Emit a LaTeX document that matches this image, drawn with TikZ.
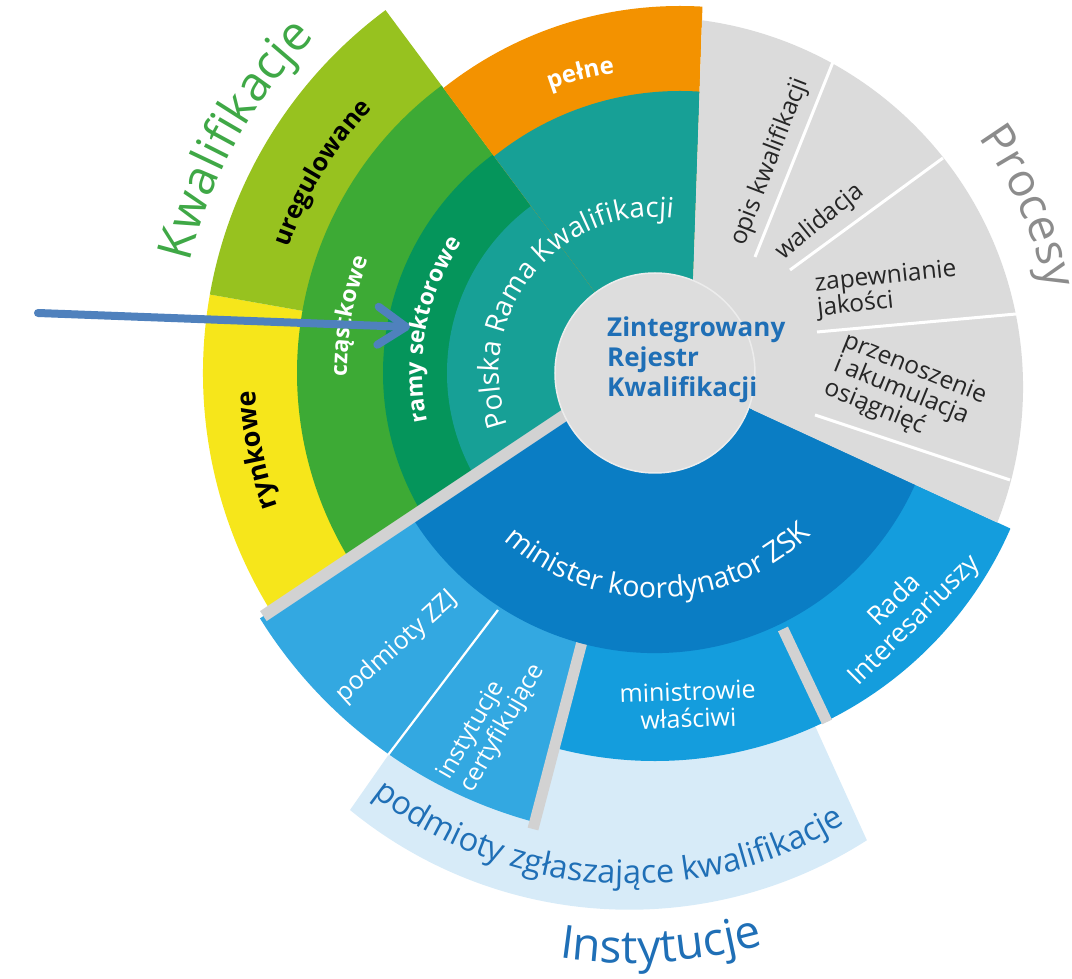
\documentclass[tikz,border=0pt]{standalone}
\usepackage{fontspec}
\setmainfont{Open Sans}
\setsansfont{Open Sans}
\usetikzlibrary{decorations.text,arrows.meta}
\definecolor{cteal}{HTML}{17A096}
\definecolor{cdkgreen}{HTML}{05955B}
\definecolor{cmidgreen}{HTML}{3DAA35}
\definecolor{cltgreen}{HTML}{97C21F}
\definecolor{cyellow}{HTML}{F6E61B}
\definecolor{corange}{HTML}{F39200}
\definecolor{cgray}{HTML}{DBDBDB}
\definecolor{cdisk}{HTML}{DDDDDD}
\definecolor{cdivider}{HTML}{D2D2D2}
\definecolor{cdkblue}{HTML}{0A7DC4}
\definecolor{cblueA}{HTML}{33A8E1}
\definecolor{cblueB}{HTML}{149DDD}
\definecolor{cband}{HTML}{D7EBF8}
\definecolor{ctextblue}{HTML}{1F6FB6}
\definecolor{ckwgreen}{HTML}{3FA846}
\definecolor{cprocgray}{HTML}{8C8C8C}
\definecolor{carrow}{HTML}{4F81BD}
\newcommand\piewedge[4]{\fill[#1] (0pt,0pt) -- (#2:#4pt) arc[start angle=#2,end angle=#3,radius=#4pt] -- cycle;}
\begin{document}
\begin{tikzpicture}[
  wlabel/.style={text=white, font=\fontsize{25}{27}\selectfont, inner sep=0pt, align=center},
  blabel/.style={text=black!85, font=\fontsize{24.5}{25}\selectfont, inner sep=0pt, align=left},
  divider/.style={draw=cdivider, line width=11pt},
  procline/.style={draw=white, line width=3pt},
  curvetext/.style={decorate, decoration={text along path, text align=center, text={#1}}}
]
\useasboundingbox (-655pt,-606pt) rectangle (417pt,373pt);

% light band of Instytucje
\fill[cband] (0pt,0pt) -- (-305pt,-437pt) arc[start angle=230.7,end angle=302.6,radius=441pt] -- cycle;

% Instytucje
\begin{scope}
\clip (-900pt,-582.7pt) -- (-9.1pt,12.4pt) -- (900pt,-406.4pt) -- (900pt,-900pt) -- (-900pt,-900pt) -- cycle;
\piewedge{cblueA}{195}{255}{465}
\piewedge{cblueB}{255}{350}{388}
\draw[white, line width=2.2pt] (-157pt,-237pt) -- (-267pt,-382pt);
\draw[divider] (-72pt,-265pt) -- (-122pt,-456pt);
\draw[divider] (128pt,-256pt) -- (172pt,-349pt);
\fill[cdkblue] (0pt,5pt) -- (-275.3pt,-68.8pt) arc[start angle=195,end angle=350,radius=285pt] -- cycle;
\end{scope}

% Kwalifikacje
\begin{scope}
\clip (-900pt,-582.7pt) -- (36.4pt,42.8pt) -- (62.3pt,800pt) -- (-900pt,800pt) -- cycle;
\piewedge{cyellow}{170}{235}{452}
\piewedge{cltgreen}{126.6}{170}{452}
\piewedge{cmidgreen}{126.6}{235}{358}
\piewedge{cdkgreen}{126.6}{235}{272}
\piewedge{cteal}{126.6}{235}{208}
\begin{scope}
\clip (0pt,0pt) -- (126.6:900pt) -- (90:900pt) -- (40:900pt) -- cycle;
\fill[corange] (25pt,-15pt) circle[radius=382pt];
\fill[cteal] (25pt,-15pt) circle[radius=297pt];
\end{scope}
\end{scope}

% divider Kwalifikacje / Instytucje
\draw[divider, line width=12pt] (-90pt,-42pt) -- (-391.6pt,-243.1pt);

% Procesy
\fill[cgray] (37pt,60pt) -- (47pt,352.7pt) arc[start angle=82.4,end angle=-21.5,radius=370pt] -- (98pt,-37pt) -- (60pt,-10pt) -- cycle;
\draw[procline] (100pt,116pt) -- (178pt,311pt);
\draw[procline] (135pt,103pt) -- (288pt,215pt);
\draw[procline] (162pt,41pt) -- (361pt,59pt);
\draw[procline] (160pt,-42pt) -- (355pt,-107pt);

% central disk
\node[circle, fill=cdisk, draw=white!45!cdisk, line width=1.5pt, minimum size=200pt, inner sep=0pt] (zrk) at (0pt,0pt) {};
\node[font=\bfseries\fontsize{26}{30}\selectfont, text=ctextblue, align=left, anchor=north west, inner sep=0pt] (zrktext) at (-48pt,56pt) {Zintegrowany\\Rejestr\\Kwalifikacji};

% Kwalifikacje texts
\path[curvetext={|\fontsize{48}{48}\selectfont\color{ckwgreen}|Kwalifikacje}] (185:478pt) arc[start angle=185,end angle=117,radius=478pt];
\path[curvetext={|\bfseries\fontsize{25}{25}\selectfont\color{black}|uregulowane}] (175:387pt) arc[start angle=175,end angle=123,radius=387pt];
\path[curvetext={|\bfseries\fontsize{27}{27}\selectfont\color{black}|rynkowe}] (215:400pt) arc[start angle=215,end angle=167,radius=400pt];
\path[curvetext={|\bfseries\fontsize{24}{24}\selectfont\color{white}|pełne}] (125:302pt) arc[start angle=125,end angle=83,radius=302pt];
\path[curvetext={|\bfseries\fontsize{23}{23}\selectfont\color{white}|cząstkowe}] (195:308pt) arc[start angle=195,end angle=144,radius=308pt];
\path[curvetext={|\bfseries\fontsize{23}{23}\selectfont\color{white}|ramy sektorowe}] (200:233pt) arc[start angle=200,end angle=138,radius=233pt];
\path[curvetext={|\fontsize{28}{28}\selectfont\color{white}|Polska Rama Kwalifikacji}] (218:156pt) arc[start angle=218,end angle=65,radius=156pt];

% Procesy texts
\path[curvetext={|\fontsize{46}{46}\selectfont\color{cprocgray}|Procesy}] (60:400pt) arc[start angle=60,end angle=-12,radius=400pt];
\node[blabel, rotate=69] (opis) at (115pt,211pt) {opis kwalifikacji};
\node[blabel, rotate=39] (walid) at (165pt,151pt) {walidacja};
\node[blabel, rotate=6] (zapew) at (232pt,83pt) {zapewnianie\\jakości};
\node[blabel, rotate=-22, font=\fontsize{24.5}{23}\selectfont] (przen) at (250pt,-20pt) {przenoszenie\\i akumulacja\\osiągnięć};

% Instytucje texts
\path[curvetext={|\fontsize{28.5}{28.5}\selectfont\color{white}|minister koordynator ZSK}] (224:225pt) arc[start angle=224,end angle=318,radius=225pt];
\node[wlabel, rotate=42] (zzj) at (-258pt,-274pt) {podmioty ZZJ};
\node[wlabel, rotate=60, align=left, font=\fontsize{24.5}{26}\selectfont] (cert) at (-163pt,-349pt) {instytucje\\certyfikujące};
\node[wlabel, rotate=2] (minw) at (33pt,-332pt) {ministrowie\\właściwi};
\node[wlabel, rotate=45, font=\fontsize{26.5}{28}\selectfont] (rada) at (250pt,-238pt) {Rada\\Interesariuszy};
\path[curvetext={|\fontsize{32.5}{32.5}\selectfont\color{ctextblue}|podmioty zgłaszające kwalifikacje}] (-336.6pt,-370.6pt) arc[start angle=221.5,end angle=311.5,radius=416pt];
\path[curvetext={|\fontsize{46}{46}\selectfont\color{ctextblue}|Instytucje}] (-244.3pt,-538.8pt) arc[start angle=243.7,end angle=303.7,radius=495pt];

% arrow
\coordinate (arrowfrom) at (-617pt,60pt);
\coordinate (arrowto) at (-245pt,46pt);
\draw[carrow, line width=8pt, line cap=round, -{Straight Barb[length=28pt,width=38pt,round]}] (arrowfrom) -- (arrowto);
\end{tikzpicture}
\end{document}
